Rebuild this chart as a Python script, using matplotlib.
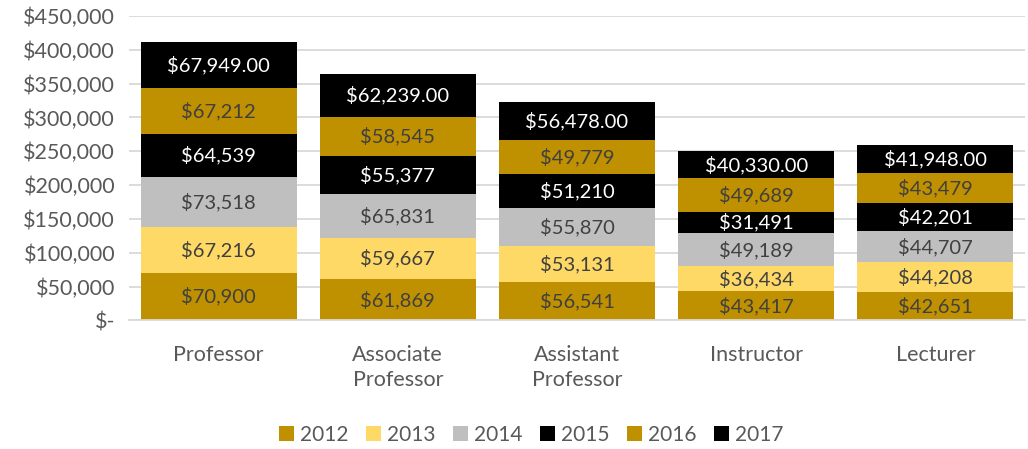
import numpy as np
import matplotlib.pyplot as plt
from matplotlib.ticker import FuncFormatter

plt.rcParams['font.family'] = ['Lato', 'DejaVu Sans']

categories = ["Professor", "Associate\nProfessor", "Assistant\nProfessor", "Instructor", "Lecturer"]
years = ["2012", "2013", "2014", "2015", "2016", "2017"]
sal_2012 = [70900, 61869, 56541, 43417, 42651]
sal_2013 = [67216, 59667, 53131, 36434, 44208]
sal_2014 = [73518, 65831, 55870, 49189, 44707]
sal_2015 = [64539, 55377, 51210, 31491, 42201]
sal_2016 = [67212, 58545, 49779, 49689, 43479]
sal_2017 = [67949, 62239, 56478, 40330, 41948]

series = [sal_2012, sal_2013, sal_2014, sal_2015, sal_2016, sal_2017]
colors = ["#BF9000", "#FFD966", "#BFBFBF", "#000000", "#BF9000", "#000000"]
txtcol = ["#404040", "#404040", "#404040", "#FFFFFF", "#404040", "#FFFFFF"]

fig = plt.figure(figsize=(10.28, 4.49), dpi=100)
ax = fig.add_axes([0.1255, 0.2862, 0.8715, 0.6782])

x = np.arange(len(categories))
bottom = np.zeros(len(categories))
for i, (vals, yr) in enumerate(zip(series, years)):
    vals = np.array(vals, dtype=float)
    ax.bar(x, vals, 0.87, bottom=bottom, color=colors[i], label=yr, zorder=2)
    for xi, b, v in zip(x, bottom, vals):
        s = "${:,.2f}".format(v) if yr == "2017" else "${:,.0f}".format(v)
        ax.text(xi, b + v / 2, s, ha='center', va='center', fontsize=14.5,
                color=txtcol[i], zorder=3)
    bottom += vals

ax.set_xlim(-0.5, len(categories) - 0.5)
ax.set_ylim(0, 450000)
ax.set_yticks(np.arange(0, 450001, 50000))
ax.yaxis.set_major_formatter(FuncFormatter(lambda v, p: "$-" if v == 0 else "${:,.0f}".format(v)))
ax.grid(axis='y', color='#D9D9D9', linewidth=1.3, zorder=0)
for sp in ['top', 'right', 'left']:
    ax.spines[sp].set_visible(False)
ax.spines['bottom'].set_color('#D9D9D9')
ax.spines['bottom'].set_linewidth(1.3)
ax.set_xticks(x)
ax.set_xticklabels(categories, linespacing=1.3)
ax.tick_params(axis='both', length=0, colors='#595959', labelsize=15.5)
ax.tick_params(axis='x', pad=18)
ax.tick_params(axis='y', pad=10)

fig.legend(loc='center', bbox_to_anchor=(0.517, 0.031), ncol=6, frameon=False,
           fontsize=15, handlelength=0.7, handleheight=0.7, handletextpad=0.3,
           columnspacing=0.85, labelcolor='#595959')

fig.savefig("out.png", dpi=100)
